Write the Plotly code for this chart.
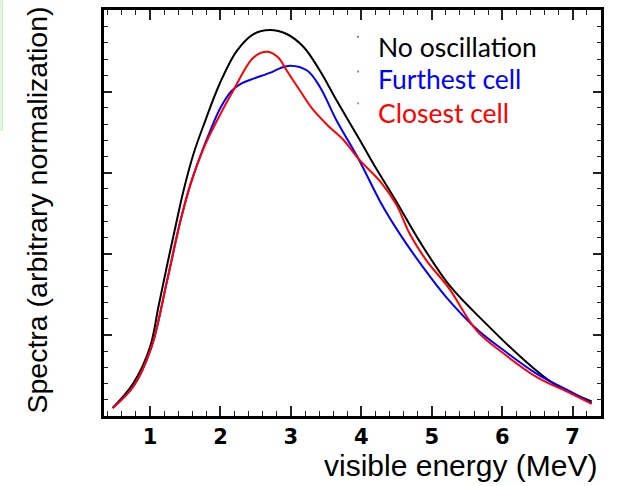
import plotly.graph_objects as go

# ---- data ----
no_osc_x = [0.47, 0.76, 1.0, 1.12, 1.24, 1.36, 1.47, 1.62, 1.78, 1.99, 2.23, 2.47, 2.70, 2.94,
            3.18, 3.41, 3.65, 3.98, 4.17, 4.50, 4.83, 5.26, 5.78, 6.26, 6.73, 7.27]
no_osc = [0.10, 0.40, 0.85, 1.35, 1.85, 2.33, 2.76, 3.24, 3.63, 4.10, 4.50, 4.71, 4.76, 4.71,
          4.55, 4.26, 3.89, 3.40, 3.11, 2.64, 2.15, 1.60, 1.13, 0.73, 0.40, 0.18]

furthest_x = [0.47, 0.76, 1.02, 1.24, 1.43, 1.58, 1.72, 1.87, 2.00, 2.16, 2.30, 2.47, 2.70, 2.85,
              2.99, 3.23, 3.41, 3.65, 3.96, 4.27, 4.55, 4.88, 5.21, 5.64, 6.02, 6.49, 6.97, 7.27]
furthest = [0.10, 0.36, 0.85, 1.66, 2.40, 2.87, 3.22, 3.55, 3.80, 4.01, 4.10, 4.16, 4.23, 4.29,
            4.32, 4.26, 4.06, 3.64, 3.17, 2.64, 2.24, 1.83, 1.46, 1.07, 0.81, 0.52, 0.30, 0.16]

closest_x = [0.47, 0.76, 1.02, 1.24, 1.43, 1.57, 1.76, 1.95, 2.18, 2.47, 2.67, 2.82, 2.94, 3.13,
             3.32, 3.55, 3.75, 3.96, 4.27, 4.50, 4.69, 4.93, 5.24, 5.64, 6.02, 6.49, 6.97, 7.27]
closest = [0.10, 0.36, 0.85, 1.66, 2.40, 2.85, 3.30, 3.64, 4.01, 4.42, 4.49, 4.42, 4.26, 4.01,
           3.77, 3.56, 3.40, 3.17, 2.89, 2.60, 2.24, 1.91, 1.58, 1.05, 0.77, 0.48, 0.28, 0.15]

legend_labels = ["No oscillation", "Furthest cell", "Closest cell"]
colors = ["#000000", "#0000ff", "#ff0000"]
x_ticks = [1, 2, 3, 4, 5, 6, 7]

# ---- layout geometry (pixels) ----
W, H = 617, 486
L, R, T, B = 104, 601, 7, 416


def px(x):
    return (x - L) / (R - L)


def py(y):
    return (B - y) / (B - T)


fig = go.Figure()
for xs, ys, name, c in [(no_osc_x, no_osc, legend_labels[0], colors[0]),
                        (furthest_x, furthest, legend_labels[1], colors[1]),
                        (closest_x, closest, legend_labels[2], colors[2])]:
    fig.add_trace(go.Scatter(x=xs, y=ys, mode="lines", name=name,
                             line=dict(color=c, width=2, shape="spline", smoothing=1.0),
                             showlegend=False))

annotations = []
# legend text
for i, (lab, c) in enumerate(zip(legend_labels, colors)):
    yc = [44, 77, 111][i]
    annotations.append(dict(text=lab, xref="paper", yref="paper", x=px(376), y=py(yc),
                            xanchor="left", yanchor="middle", showarrow=False,
                            font=dict(family="Lato", size=26.5, color=c)))
# axis titles
annotations.append(dict(text="visible energy (MeV)", xref="paper", yref="paper",
                        x=px(599), y=py(466), xanchor="right", yanchor="middle",
                        showarrow=False, font=dict(family="Liberation Sans", size=30, color="#000")))
annotations.append(dict(text="Spectra (arbitrary normalization)", xref="paper", yref="paper",
                        x=px(37), y=py(209), xanchor="center", yanchor="middle", textangle=-90,
                        showarrow=False, font=dict(family="Liberation Sans", size=28.5, color="#000")))

shapes = []
# tiny legend glyph dots
for yc, c in zip([34, 69, 101], colors):
    shapes.append(dict(type="line", xref="paper", yref="paper", x0=px(358), x1=px(358),
                       y0=py(yc - 1), y1=py(yc + 1), line=dict(color=c, width=1)))
# pale green strip at top-left edge
shapes.append(dict(type="rect", xref="paper", yref="paper", x0=px(-2), x1=px(2.5),
                   y0=py(128), y1=py(-2), fillcolor="#dff7df", line=dict(color="#c8efc8", width=1),
                   layer="below"))

axis_common = dict(showgrid=False, zeroline=False, showline=True, linecolor="#000",
                   linewidth=3, mirror="ticks", ticks="inside", tickcolor="#222")

fig.update_layout(
    width=W, height=H,
    margin=dict(l=L, r=W - R, t=T, b=H - B),
    paper_bgcolor="white", plot_bgcolor="white",
    annotations=annotations, shapes=shapes,
    xaxis=dict(range=[0.3466, 7.402], tickvals=x_ticks, ticklen=10, tickwidth=1.5,
               tickfont=dict(family="DejaVu Sans", size=21, color="#000", weight="bold"),
               minor=dict(dtick=0.2, tick0=0, ticklen=5, ticks="inside", tickcolor="#222",
                          tickwidth=1.2, showgrid=False),
               **axis_common),
    yaxis=dict(range=[0, 5.006], dtick=1, tick0=0, ticklen=8, tickwidth=1.5,
               showticklabels=False,
               minor=dict(dtick=0.2, tick0=0, ticklen=4, ticks="inside", tickcolor="#222",
                          tickwidth=1.2, showgrid=False),
               **axis_common),
)

fig.write_html("out.html")
